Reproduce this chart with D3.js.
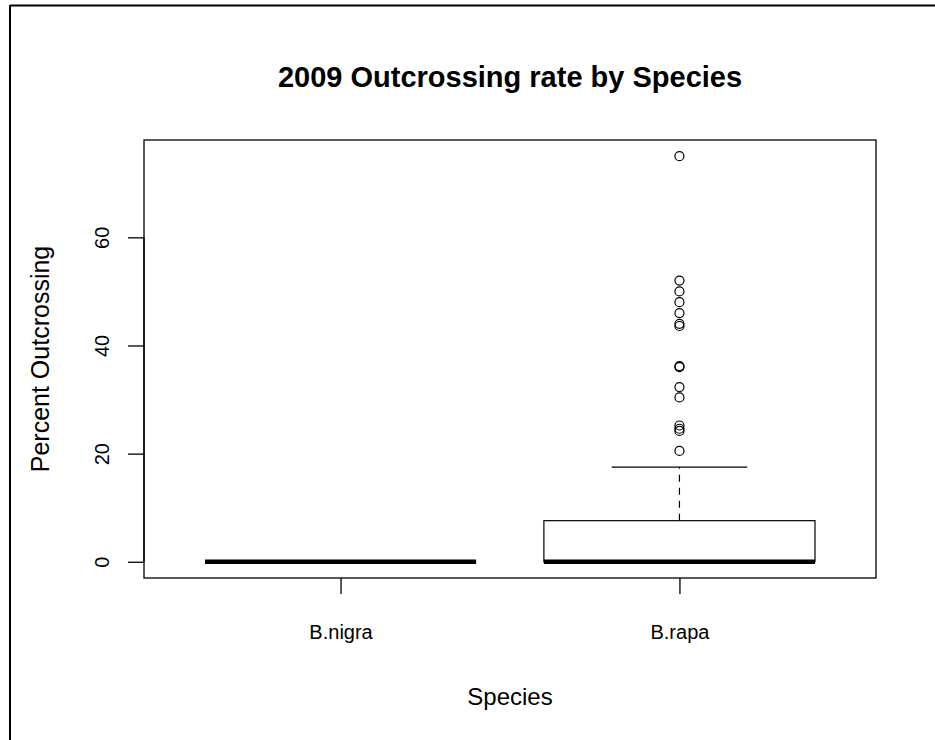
<!DOCTYPE html>
<html>
<head>
<meta charset="utf-8">
<script src="https://cdn.jsdelivr.net/npm/d3@7"></script>
<style>
  body { margin: 0; background: #fff; }
  svg { font-family: "Liberation Sans", Arial, sans-serif; }
</style>
</head>
<body>
<svg id="chart" width="935" height="740"></svg>
<script>
// data
const species = ["B.nigra", "B.rapa"];
const lowWhisker = [0, 0];
const q1 = [0, 0];
const median = [0, 0];
const q3 = [0, 7.6];
const highWhisker = [0, 17.5];
const rapaOutliers = [75, 52, 50, 48, 46, 44, 43.6, 36.2, 36, 32.3, 30.4, 25.2, 24.6, 24.2, 20.5];
const yTicks = [0, 20, 40, 60];

const svg = d3.select("#chart");

// frame of the screenshot
svg.append("line").attr("x1", 10).attr("y1", 5.5).attr("x2", 935).attr("y2", 5.5)
  .attr("stroke", "#000").attr("stroke-width", 2);
svg.append("line").attr("x1", 10).attr("y1", 5).attr("x2", 10).attr("y2", 740)
  .attr("stroke", "#000").attr("stroke-width", 2);

const plot = {left: 144, right: 876, top: 140, bottom: 578};

// R style ranges: 4% padding
const y = d3.scaleLinear().domain([-3, 78]).range([plot.bottom, plot.top]);
const x = d3.scaleLinear().domain([0.42, 2.58]).range([plot.left, plot.right]);
const half = x(1.4) - x(1);
const capHalf = half / 2;

const boxes = species.map((s, i) => ({
  name: s, pos: i + 1,
  lo: lowWhisker[i], q1: q1[i], med: median[i], q3: q3[i], hi: highWhisker[i]
}));

const g = svg.append("g");

// whiskers (dashed) and caps
boxes.forEach(b => {
  const cx = x(b.pos);
  if (b.hi > b.q3) {
    g.append("line").attr("x1", cx).attr("x2", cx)
      .attr("y1", y(b.q3)).attr("y2", y(b.hi))
      .attr("stroke", "#000").attr("stroke-width", 1.2).attr("stroke-dasharray", "7,6");
    g.append("line").attr("x1", cx - capHalf).attr("x2", cx + capHalf)
      .attr("y1", y(b.hi)).attr("y2", y(b.hi))
      .attr("stroke", "#000").attr("stroke-width", 1.2);
  }
  if (b.q3 > b.q1) {
    g.append("rect")
      .attr("x", cx - half).attr("width", 2 * half)
      .attr("y", y(b.q3)).attr("height", y(b.q1) - y(b.q3))
      .attr("fill", "#fff").attr("stroke", "#000").attr("stroke-width", 1.2);
  }
  g.append("line").attr("x1", cx - half).attr("x2", cx + half)
    .attr("y1", y(b.med)).attr("y2", y(b.med))
    .attr("stroke", "#000").attr("stroke-width", 4.5);
});

// outliers
g.selectAll("circle.out")
  .data(rapaOutliers)
  .enter()
  .append("circle")
  .attr("class", "out")
  .attr("cx", x(2))
  .attr("cy", d => y(d))
  .attr("r", 4.5)
  .attr("fill", "none")
  .attr("stroke", "#000")
  .attr("stroke-width", 1.2);

// plot box
svg.append("rect")
  .attr("x", plot.left).attr("y", plot.top)
  .attr("width", plot.right - plot.left).attr("height", plot.bottom - plot.top)
  .attr("fill", "none").attr("stroke", "#000").attr("stroke-width", 1.3);

// y axis
const yAxis = svg.append("g").attr("transform", `translate(${plot.left},0)`)
  .call(d3.axisLeft(y).tickValues(yTicks).tickSize(16).tickSizeOuter(0).tickFormat(d3.format("d")));
yAxis.select(".domain").attr("d", `M0,${y(0)}V${y(60)}`).attr("stroke-width", 1.3);
yAxis.selectAll(".tick line").attr("stroke-width", 1.3);
yAxis.selectAll(".tick text")
  .attr("x", 0).attr("y", 0).attr("dy", null)
  .attr("transform", "translate(-42,0) rotate(-90)")
  .attr("text-anchor", "middle").attr("dominant-baseline", "central")
  .attr("font-size", 20).attr("font-family", "Liberation Sans, Arial, sans-serif").attr("fill", "#000");

// x axis
const xAxis = svg.append("g").attr("transform", `translate(0,${plot.bottom})`)
  .call(d3.axisBottom(x).tickValues([1, 2]).tickSize(16).tickSizeOuter(0).tickFormat((d, i) => species[i]));
xAxis.select(".domain").remove();
xAxis.selectAll(".tick line").attr("stroke-width", 1.3);
xAxis.selectAll(".tick text")
  .attr("y", 54).attr("dy", null).attr("dominant-baseline", "central")
  .attr("font-size", 20).attr("font-family", "Liberation Sans, Arial, sans-serif").attr("fill", "#000");

// titles
svg.append("text").attr("x", (plot.left + plot.right) / 2).attr("y", 77)
  .attr("text-anchor", "middle").attr("dominant-baseline", "central")
  .attr("font-size", 29).attr("font-weight", "bold")
  .text("2009 Outcrossing rate by Species");

svg.append("text").attr("x", (plot.left + plot.right) / 2).attr("y", 696)
  .attr("text-anchor", "middle").attr("dominant-baseline", "central")
  .attr("font-size", 24)
  .text("Species");

svg.append("text")
  .attr("transform", `translate(40,${(plot.top + plot.bottom) / 2}) rotate(-90)`)
  .attr("text-anchor", "middle").attr("dominant-baseline", "central")
  .attr("font-size", 25)
  .text("Percent Outcrossing");
</script>
</body>
</html>
